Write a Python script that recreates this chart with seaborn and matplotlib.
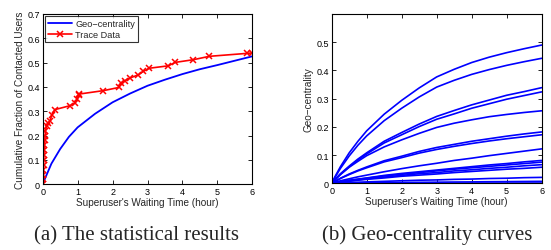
import matplotlib
matplotlib.use("Agg")
import matplotlib.pyplot as plt
import seaborn as sns
import numpy as np
import pandas as pd

# --- (a) trace data vs geo-centrality ---
trace_t = [0, 0.01, 0.015, 0.02, 0.025, 0.03, 0.035, 0.04, 0.05, 0.06, 0.07, 0.08,
           0.11, 0.16, 0.21, 0.26, 0.35, 0.78, 0.92, 0.99, 1.03, 1.05, 1.74, 2.18,
           2.23, 2.36, 2.5, 2.74, 2.88, 3.05, 3.6, 3.79, 4.31, 4.77, 5.84, 6.0]
trace_y = [0, 0.02, 0.04, 0.06, 0.08, 0.10, 0.12, 0.14, 0.16, 0.18, 0.20, 0.22,
           0.241, 0.25, 0.261, 0.285, 0.307, 0.323, 0.334, 0.35, 0.365, 0.371, 0.385, 0.398,
           0.415, 0.426, 0.437, 0.45, 0.464, 0.477, 0.487, 0.501, 0.512, 0.526, 0.538, 0.54]

geo_t = [0, 0.1, 0.25, 0.5, 0.75, 1, 1.5, 2, 2.5, 3, 3.5, 4, 4.5, 5, 5.5, 6]
geo_y = [0, 0.035, 0.085, 0.145, 0.195, 0.234, 0.29, 0.337, 0.373, 0.405, 0.43,
         0.453, 0.473, 0.49, 0.508, 0.526]

# --- (b) geo-centrality curves of individual superusers ---
curve_t = [0, 0.1, 0.25, 0.5, 0.75, 1, 1.5, 2, 2.5, 3, 3.5, 4, 4.5, 5, 5.5, 6]
curves = [
    [0, .025, .059, .108, .149, .186, .245, .294, .338, .377, .404, .428, .447, .463, .477, .49],
    [0, .022, .053, .097, .135, .168, .222, .266, .306, .341, .365, .386, .403, .418, .431, .443],
    [0, .014, .034, .061, .086, .108, .149, .18, .21, .237, .258, .278, .295, .312, .325, .339],
    [0, .013, .032, .058, .083, .104, .143, .172, .201, .227, .246, .266, .282, .298, .311, .324],
    [0, .013, .031, .057, .078, .098, .129, .154, .177, .198, .213, .225, .236, .244, .251, .257],
    [0, .007, .018, .033, .046, .058, .08, .096, .113, .127, .138, .149, .158, .167, .175, .182],
    [0, .007, .017, .031, .044, .055, .076, .091, .107, .12, .131, .141, .15, .158, .165, .172],
    [0, .004, .009, .016, .023, .029, .041, .052, .062, .071, .081, .089, .098, .106, .114, .122],
    [0, .002, .006, .011, .015, .019, .028, .035, .041, .047, .053, .059, .065, .07, .076, .081],
    [0, .002, .005, .01, .014, .018, .026, .032, .038, .044, .05, .055, .06, .065, .07, .075],
    [0, .002, .005, .009, .012, .016, .022, .028, .034, .038, .044, .048, .053, .057, .062, .066],
    [0, .002, .004, .007, .011, .014, .019, .025, .029, .033, .038, .042, .046, .05, .053, .057],
    [0, .001, .0015, .003, .004, .005, .007, .009, .011, .012, .014, .015, .017, .018, .02, .021],
    [0, .0002, .0005, .001, .0013, .0017, .0024, .003, .0036, .004, .0046, .005, .0056, .006, .0065, .007],
    [0, .0001, .0001, .0002, .0002, .0003, .0004, .0005, .0006, .0006, .0007, .0008, .0008, .0009, .001, .001],
]

xlabel = "Superuser's Waiting Time (hour)"

sns.set_theme(style="white")
plt.rcParams['font.family'] = ['Liberation Sans', 'DejaVu Sans']
plt.rcParams['axes.linewidth'] = 0.8

fig = plt.figure(figsize=(5.51, 2.51), dpi=100)
ax1 = fig.add_axes([0.0775, 0.2618, 0.3804, 0.6785])
ax2 = fig.add_axes([0.602, 0.2657, 0.381, 0.6745])


def fmt(v, _):
    return "0" if v == 0 else f"{v:g}"


def style_axes(ax):
    for s in ax.spines.values():
        s.set_visible(True)
        s.set_color('black')
    ax.tick_params(direction='in', length=3, width=0.6, labelsize=6.5,
                   top=True, right=True, bottom=True, left=True, pad=2,
                   colors='black')
    ax.xaxis.set_major_formatter(plt.FuncFormatter(fmt))
    ax.yaxis.set_major_formatter(plt.FuncFormatter(fmt))


# panel (a)
sns.lineplot(x=geo_t, y=geo_y, ax=ax1, color='#0000ff', linewidth=1.3,
             label='Geo\u2212centrality', estimator=None, sort=False)
sns.lineplot(x=trace_t, y=trace_y, ax=ax1, color='#ff0000', linewidth=1.2,
             marker='x', markersize=3.8, markeredgewidth=1.1, markeredgecolor='#ff0000',
             label='Trace Data', estimator=None, sort=False)
ax1.set_xlim(0, 6)
ax1.set_ylim(0, 0.7)
ax1.set_xticks(range(0, 7))
ax1.set_yticks(np.arange(0, 0.71, 0.1))
style_axes(ax1)
ax1.set_xlabel(xlabel, fontsize=7.2, labelpad=1)
ax1.set_ylabel('Cumulative Fraction of Contacted Users', fontsize=7.2, labelpad=2)
leg = ax1.legend(loc='upper left', fontsize=6.6, frameon=True, fancybox=False,
                 borderaxespad=0.25, handlelength=2.6, borderpad=0.3,
                 labelspacing=0.2, handletextpad=0.4)
leg.get_frame().set_edgecolor('black')
leg.get_frame().set_linewidth(0.8)

# panel (b)
rows = []
for i, c in enumerate(curves):
    for t, v in zip(curve_t, c):
        rows.append({'t': t, 'g': v, 'user': i})
df = pd.DataFrame(rows)
sns.lineplot(data=df, x='t', y='g', units='user', estimator=None, ax=ax2,
             color='#0000ff', linewidth=1.2, legend=False)
ax2.set_xlim(0, 6)
ax2.set_ylim(0, 0.6)
ax2.set_xticks(range(0, 7))
ax2.set_yticks(np.arange(0, 0.51, 0.1))
style_axes(ax2)
ax2.set_xlabel(xlabel, fontsize=7.2, labelpad=1)
ax2.set_ylabel('Geo\u2212centrality', fontsize=7.2, labelpad=2)

# captions
serif = ['Liberation Serif', 'DejaVu Serif']
fig.text(137 / 551, 1 - 240 / 251, '(a) The statistical results', ha='center',
         va='baseline', fontsize=15, family=serif)
fig.text(427 / 551, 1 - 240 / 251, '(b) Geo-centrality curves', ha='center',
         va='baseline', fontsize=15, family=serif)

fig.savefig('out.png', dpi=100)
